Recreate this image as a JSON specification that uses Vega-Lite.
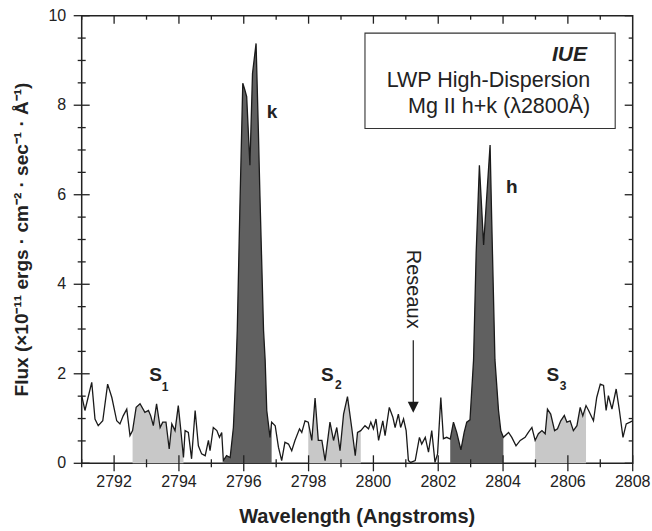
{
  "$schema": "https://vega.github.io/schema/vega-lite/v6.json",
  "width": 551,
  "height": 447.6,
  "autosize": {"type": "none"},
  "padding": {"left": 81.7, "top": 15.7, "right": 19.3, "bottom": 67.7},
  "background": "white",
  "config": {
    "font": "Liberation Sans",
    "view": {"stroke": "#222222", "strokeWidth": 1.5}
  },
  "datasets": {
    "spectrum": [
      {"w": 2791.00, "f": 1.51}, {"w": 2791.10, "f": 1.18}, {"w": 2791.31, "f": 1.81},
      {"w": 2791.41, "f": 0.99}, {"w": 2791.51, "f": 0.84}, {"w": 2791.65, "f": 0.95},
      {"w": 2791.80, "f": 1.77}, {"w": 2791.93, "f": 1.47}, {"w": 2792.08, "f": 0.95},
      {"w": 2792.18, "f": 0.88}, {"w": 2792.28, "f": 1.06}, {"w": 2792.39, "f": 1.21},
      {"w": 2792.49, "f": 0.62},
      {"w": 2792.57, "f": 0.73, "band": "S1"}, {"w": 2792.68, "f": 1.25, "band": "S1"},
      {"w": 2792.80, "f": 1.33, "band": "S1"}, {"w": 2792.95, "f": 1.14, "band": "S1"},
      {"w": 2793.06, "f": 1.18, "band": "S1"}, {"w": 2793.13, "f": 1.06, "band": "S1"},
      {"w": 2793.21, "f": 0.84, "band": "S1"}, {"w": 2793.31, "f": 1.33, "band": "S1"},
      {"w": 2793.42, "f": 0.80, "band": "S1"}, {"w": 2793.50, "f": 0.92, "band": "S1"},
      {"w": 2793.60, "f": 0.92, "band": "S1"}, {"w": 2793.70, "f": 0.32, "band": "S1"},
      {"w": 2793.78, "f": 0.88, "band": "S1"}, {"w": 2793.88, "f": 0.73, "band": "S1"},
      {"w": 2793.98, "f": 1.29, "band": "S1"}, {"w": 2794.05, "f": 0.80, "band": "S1"},
      {"w": 2794.14, "f": 0.13, "band": "S1"},
      {"w": 2794.19, "f": 0.73}, {"w": 2794.29, "f": 0.69}, {"w": 2794.39, "f": 0.10},
      {"w": 2794.50, "f": 1.18}, {"w": 2794.60, "f": 0.39}, {"w": 2794.70, "f": 0.21},
      {"w": 2794.81, "f": 0.17}, {"w": 2794.91, "f": 0.51}, {"w": 2794.96, "f": 0.28},
      {"w": 2795.06, "f": 0.80}, {"w": 2795.17, "f": 0.73}, {"w": 2795.25, "f": 0.58},
      {"w": 2795.32, "f": 0.69},
      {"w": 2795.37, "f": 0.06, "band": "k"}, {"w": 2795.47, "f": 0.17, "band": "k"},
      {"w": 2795.58, "f": 0.13, "band": "k"}, {"w": 2795.68, "f": 0.80, "band": "k"},
      {"w": 2795.76, "f": 2.10, "band": "k"}, {"w": 2795.80, "f": 2.98, "band": "k"},
      {"w": 2795.88, "f": 5.70, "band": "k"}, {"w": 2795.97, "f": 8.49, "band": "k"},
      {"w": 2796.03, "f": 8.35, "band": "k"}, {"w": 2796.09, "f": 8.19, "band": "k"},
      {"w": 2796.19, "f": 6.66, "band": "k"}, {"w": 2796.27, "f": 8.71, "band": "k"},
      {"w": 2796.38, "f": 9.38, "band": "k"}, {"w": 2796.45, "f": 7.45, "band": "k"},
      {"w": 2796.50, "f": 5.96, "band": "k"}, {"w": 2796.61, "f": 2.98, "band": "k"},
      {"w": 2796.66, "f": 2.31, "band": "k"}, {"w": 2796.71, "f": 1.18, "band": "k"},
      {"w": 2796.81, "f": 0.58, "band": "k"}, {"w": 2796.86, "f": 0.92, "band": "k"},
      {"w": 2796.97, "f": 0.84}, {"w": 2797.07, "f": 0.36}, {"w": 2797.17, "f": 0.06},
      {"w": 2797.27, "f": 0.47}, {"w": 2797.38, "f": 0.43}, {"w": 2797.48, "f": 0.28},
      {"w": 2797.58, "f": 0.51}, {"w": 2797.72, "f": 0.77}, {"w": 2797.79, "f": 0.69},
      {"w": 2797.89, "f": 0.95},
      {"w": 2797.99, "f": 0.92, "band": "S2"}, {"w": 2798.10, "f": 0.51, "band": "S2"},
      {"w": 2798.20, "f": 1.46, "band": "S2"}, {"w": 2798.30, "f": 0.51, "band": "S2"},
      {"w": 2798.41, "f": 0.51, "band": "S2"}, {"w": 2798.51, "f": 0.06, "band": "S2"},
      {"w": 2798.66, "f": 0.92, "band": "S2"}, {"w": 2798.77, "f": 0.51, "band": "S2"},
      {"w": 2798.87, "f": 0.80, "band": "S2"}, {"w": 2798.97, "f": 0.28, "band": "S2"},
      {"w": 2799.08, "f": 1.10, "band": "S2"}, {"w": 2799.20, "f": 1.49, "band": "S2"},
      {"w": 2799.33, "f": 0.80, "band": "S2"}, {"w": 2799.44, "f": 0.17, "band": "S2"},
      {"w": 2799.51, "f": 0.69, "band": "S2"}, {"w": 2799.61, "f": 0.73, "band": "S2"},
      {"w": 2799.74, "f": 0.84}, {"w": 2799.85, "f": 0.77}, {"w": 2799.92, "f": 0.92},
      {"w": 2800.00, "f": 0.77}, {"w": 2800.08, "f": 0.99}, {"w": 2800.16, "f": 0.51},
      {"w": 2800.29, "f": 0.95}, {"w": 2800.36, "f": 0.62}, {"w": 2800.49, "f": 1.25},
      {"w": 2800.60, "f": 1.03}, {"w": 2800.67, "f": 0.80}, {"w": 2800.77, "f": 1.10},
      {"w": 2800.84, "f": 0.80}, {"w": 2800.93, "f": 0.99}, {"w": 2801.01, "f": 0.73},
      {"w": 2801.08, "f": 0.06}, {"w": 2801.15, "f": 0.02}, {"w": 2801.29, "f": 0.06},
      {"w": 2801.42, "f": 0.58}, {"w": 2801.49, "f": 0.43}, {"w": 2801.60, "f": 0.58},
      {"w": 2801.70, "f": 0.25}, {"w": 2801.80, "f": 0.73}, {"w": 2801.90, "f": 0.02},
      {"w": 2801.98, "f": 0.21}, {"w": 2802.08, "f": 1.47}, {"w": 2802.16, "f": 0.55},
      {"w": 2802.26, "f": 0.58},
      {"w": 2802.37, "f": 0.54, "band": "h"}, {"w": 2802.47, "f": 0.92, "band": "h"},
      {"w": 2802.57, "f": 0.69, "band": "h"}, {"w": 2802.70, "f": 0.30, "band": "h"},
      {"w": 2802.80, "f": 0.69, "band": "h"}, {"w": 2802.88, "f": 0.92, "band": "h"},
      {"w": 2802.98, "f": 0.97, "band": "h"}, {"w": 2803.09, "f": 2.31, "band": "h"},
      {"w": 2803.17, "f": 4.69, "band": "h"}, {"w": 2803.27, "f": 6.66, "band": "h"},
      {"w": 2803.40, "f": 4.88, "band": "h"}, {"w": 2803.60, "f": 7.11, "band": "h"},
      {"w": 2803.65, "f": 5.44, "band": "h"}, {"w": 2803.75, "f": 2.31, "band": "h"},
      {"w": 2803.86, "f": 1.18, "band": "h"}, {"w": 2803.93, "f": 0.73, "band": "h"},
      {"w": 2804.01, "f": 0.58, "band": "h"},
      {"w": 2804.17, "f": 0.69}, {"w": 2804.27, "f": 0.58}, {"w": 2804.40, "f": 0.39},
      {"w": 2804.53, "f": 0.51}, {"w": 2804.68, "f": 0.58}, {"w": 2804.78, "f": 0.69},
      {"w": 2804.89, "f": 0.80},
      {"w": 2804.99, "f": 0.51, "band": "S3"}, {"w": 2805.09, "f": 0.66, "band": "S3"},
      {"w": 2805.20, "f": 0.73, "band": "S3"}, {"w": 2805.30, "f": 0.66, "band": "S3"},
      {"w": 2805.37, "f": 1.21, "band": "S3"}, {"w": 2805.47, "f": 1.10, "band": "S3"},
      {"w": 2805.59, "f": 0.73, "band": "S3"}, {"w": 2805.68, "f": 0.77, "band": "S3"},
      {"w": 2805.78, "f": 0.95, "band": "S3"}, {"w": 2805.89, "f": 1.07, "band": "S3"},
      {"w": 2805.97, "f": 0.92, "band": "S3"}, {"w": 2806.07, "f": 0.95, "band": "S3"},
      {"w": 2806.17, "f": 0.73, "band": "S3"}, {"w": 2806.28, "f": 0.84, "band": "S3"},
      {"w": 2806.38, "f": 1.25, "band": "S3"}, {"w": 2806.46, "f": 1.06, "band": "S3"},
      {"w": 2806.56, "f": 1.29, "band": "S3"},
      {"w": 2806.64, "f": 1.18}, {"w": 2806.79, "f": 0.95}, {"w": 2806.89, "f": 1.47},
      {"w": 2807.00, "f": 1.77}, {"w": 2807.10, "f": 1.74}, {"w": 2807.18, "f": 1.18},
      {"w": 2807.25, "f": 1.51}, {"w": 2807.36, "f": 1.21}, {"w": 2807.49, "f": 1.66},
      {"w": 2807.59, "f": 1.18}, {"w": 2807.70, "f": 0.58}, {"w": 2807.80, "f": 0.88},
      {"w": 2807.92, "f": 0.92}, {"w": 2808.00, "f": 0.95}
    ],
    "xLabels": [{"v": 2792}, {"v": 2794}, {"v": 2796}, {"v": 2798}, {"v": 2800}, {"v": 2802}, {"v": 2804}, {"v": 2806}, {"v": 2808}],
    "yLabels": [{"v": 0}, {"v": 2}, {"v": 4}, {"v": 6}, {"v": 8}, {"v": 10}],
    "xMajor": [{"v": 2792}, {"v": 2794}, {"v": 2796}, {"v": 2798}, {"v": 2800}, {"v": 2802}, {"v": 2804}, {"v": 2806}],
    "xMinor": [{"v": 2791}, {"v": 2793}, {"v": 2795}, {"v": 2797}, {"v": 2799}, {"v": 2801}, {"v": 2803}, {"v": 2805}, {"v": 2807}],
    "yMajor": [{"v": 0}, {"v": 2}, {"v": 4}, {"v": 6}, {"v": 8}, {"v": 10}],
    "yMinor": [{"v": 0.5}, {"v": 1}, {"v": 1.5}, {"v": 2.5}, {"v": 3}, {"v": 3.5}, {"v": 4.5}, {"v": 5}, {"v": 5.5}, {"v": 6.5}, {"v": 7}, {"v": 7.5}, {"v": 8.5}, {"v": 9}, {"v": 9.5}],
    "xTitle": [{"x": 2799.5, "y": 0, "t": "Wavelength (Angstroms)"}],
    "yTitle": [{"x": 2791, "y": 5, "t": "Flux (×10⁻¹¹ ergs · cm⁻² · sec⁻¹ · Å⁻¹)"}],
    "box": [{"x1": 2799.74, "x2": 2807.46, "y1": 9.61, "y2": 7.48}],
    "boxTitle": [{"x": 2806.59, "y": 9.12, "t": "IUE"}],
    "boxLines": [
      {"x": 2806.69, "y": 8.53, "t": "LWP High-Dispersion"},
      {"x": 2806.69, "y": 7.96, "t": "Mg II h+k (λ2800Å)"}
    ],
    "lineNames": [
      {"x": 2796.87, "y": 7.85, "t": "k"},
      {"x": 2804.27, "y": 6.18, "t": "h"}
    ],
    "windows": [
      {"x": 2793.28, "y": 1.97, "t": "S"},
      {"x": 2798.58, "y": 1.97, "t": "S"},
      {"x": 2805.54, "y": 1.97, "t": "S"}
    ],
    "windowSubs": [
      {"x": 2793.57, "y": 1.71, "t": "1"},
      {"x": 2798.92, "y": 1.75, "t": "2"},
      {"x": 2805.85, "y": 1.73, "t": "3"}
    ],
    "reseau": [{"x": 2801.23, "y": 3.89, "y2": 2.75, "head": 1.25, "tail": 1.36, "t": "Reseaux"}]
  },
  "layer": [
    {
      "data": {"name": "spectrum"},
      "transform": [{"filter": "datum.band === 'S1' || datum.band === 'S2' || datum.band === 'S3'"}],
      "mark": {"type": "area", "color": "#c8c8c8"},
      "encoding": {
        "x": {"field": "w", "type": "quantitative", "scale": {"domain": [2791, 2808], "nice": false, "zero": false}, "axis": null},
        "y": {"field": "f", "type": "quantitative", "stack": null, "scale": {"domain": [0, 10], "nice": false}, "axis": null},
        "detail": {"field": "band", "type": "nominal"}
      }
    },
    {
      "data": {"name": "spectrum"},
      "transform": [{"filter": "datum.band === 'k' || datum.band === 'h'"}],
      "mark": {"type": "area", "color": "#606060"},
      "encoding": {
        "x": {"field": "w", "type": "quantitative", "axis": null},
        "y": {"field": "f", "type": "quantitative", "stack": null, "axis": null},
        "detail": {"field": "band", "type": "nominal"}
      }
    },
    {
      "data": {"name": "spectrum"},
      "mark": {"type": "line", "color": "#1a1a1a", "strokeWidth": 1.3},
      "encoding": {
        "x": {"field": "w", "type": "quantitative", "axis": null},
        "y": {"field": "f", "type": "quantitative", "axis": null}
      }
    },
    {
      "data": {"name": "yMajor"},
      "mark": {"type": "rule", "color": "#222222", "strokeWidth": 1.3, "xOffset": -8, "x2Offset": 8},
      "encoding": {
        "x": {"datum": 2791, "type": "quantitative", "axis": null},
        "x2": {"datum": 2791},
        "y": {"field": "v", "type": "quantitative", "axis": null}
      }
    },
    {
      "data": {"name": "yMinor"},
      "mark": {"type": "rule", "color": "#222222", "strokeWidth": 1.3, "xOffset": -4, "x2Offset": 4},
      "encoding": {
        "x": {"datum": 2791, "type": "quantitative", "axis": null},
        "x2": {"datum": 2791},
        "y": {"field": "v", "type": "quantitative", "axis": null}
      }
    },
    {
      "data": {"name": "yMajor"},
      "mark": {"type": "rule", "color": "#222222", "strokeWidth": 1.3, "xOffset": -8, "x2Offset": 0},
      "encoding": {
        "x": {"datum": 2808, "type": "quantitative", "axis": null},
        "x2": {"datum": 2808},
        "y": {"field": "v", "type": "quantitative", "axis": null}
      }
    },
    {
      "data": {"name": "yMinor"},
      "mark": {"type": "rule", "color": "#222222", "strokeWidth": 1.3, "xOffset": -4, "x2Offset": 0},
      "encoding": {
        "x": {"datum": 2808, "type": "quantitative", "axis": null},
        "x2": {"datum": 2808},
        "y": {"field": "v", "type": "quantitative", "axis": null}
      }
    },
    {
      "data": {"name": "xLabels"},
      "mark": {"type": "rule", "color": "#222222", "strokeWidth": 1.3, "yOffset": -8, "y2Offset": 8},
      "encoding": {
        "x": {"field": "v", "type": "quantitative", "axis": null},
        "y": {"datum": 0, "type": "quantitative", "axis": null},
        "y2": {"datum": 0}
      }
    },
    {
      "data": {"name": "xMinor"},
      "mark": {"type": "rule", "color": "#222222", "strokeWidth": 1.3, "yOffset": -4, "y2Offset": 4},
      "encoding": {
        "x": {"field": "v", "type": "quantitative", "axis": null},
        "y": {"datum": 0, "type": "quantitative", "axis": null},
        "y2": {"datum": 0}
      }
    },
    {
      "data": {"name": "xMajor"},
      "mark": {"type": "rule", "color": "#222222", "strokeWidth": 1.3, "yOffset": 0, "y2Offset": 8},
      "encoding": {
        "x": {"field": "v", "type": "quantitative", "axis": null},
        "y": {"datum": 10, "type": "quantitative", "axis": null},
        "y2": {"datum": 10}
      }
    },
    {
      "data": {"name": "xMinor"},
      "mark": {"type": "rule", "color": "#222222", "strokeWidth": 1.3, "yOffset": 0, "y2Offset": 4},
      "encoding": {
        "x": {"field": "v", "type": "quantitative", "axis": null},
        "y": {"datum": 10, "type": "quantitative", "axis": null},
        "y2": {"datum": 10}
      }
    },
    {
      "data": {"name": "box"},
      "mark": {"type": "rect", "fill": "white", "stroke": "#333333", "strokeWidth": 1.1},
      "encoding": {
        "x": {"field": "x1", "type": "quantitative", "axis": null},
        "x2": {"field": "x2"},
        "y": {"field": "y1", "type": "quantitative", "axis": null},
        "y2": {"field": "y2"}
      }
    },
    {
      "data": {"name": "boxTitle"},
      "mark": {"type": "text", "align": "right", "baseline": "middle", "font": "Liberation Sans", "fontSize": 21, "fontWeight": "bold", "fontStyle": "italic", "color": "#222222"},
      "encoding": {
        "x": {"field": "x", "type": "quantitative", "axis": null},
        "y": {"field": "y", "type": "quantitative", "axis": null},
        "text": {"field": "t"}
      }
    },
    {
      "data": {"name": "boxLines"},
      "mark": {"type": "text", "align": "right", "baseline": "middle", "font": "Liberation Sans", "fontSize": 21.5, "color": "#222222"},
      "encoding": {
        "x": {"field": "x", "type": "quantitative", "axis": null},
        "y": {"field": "y", "type": "quantitative", "axis": null},
        "text": {"field": "t"}
      }
    },
    {
      "data": {"name": "lineNames"},
      "mark": {"type": "text", "align": "center", "baseline": "middle", "font": "Liberation Sans", "fontSize": 19, "fontWeight": "bold", "color": "#222222"},
      "encoding": {
        "x": {"field": "x", "type": "quantitative", "axis": null},
        "y": {"field": "y", "type": "quantitative", "axis": null},
        "text": {"field": "t"}
      }
    },
    {
      "data": {"name": "windows"},
      "mark": {"type": "text", "align": "center", "baseline": "middle", "font": "Liberation Sans", "fontSize": 19, "fontWeight": "bold", "color": "#222222"},
      "encoding": {
        "x": {"field": "x", "type": "quantitative", "axis": null},
        "y": {"field": "y", "type": "quantitative", "axis": null},
        "text": {"field": "t"}
      }
    },
    {
      "data": {"name": "windowSubs"},
      "mark": {"type": "text", "align": "center", "baseline": "middle", "font": "Liberation Sans", "fontSize": 12, "fontWeight": "bold", "color": "#222222"},
      "encoding": {
        "x": {"field": "x", "type": "quantitative", "axis": null},
        "y": {"field": "y", "type": "quantitative", "axis": null},
        "text": {"field": "t"}
      }
    },
    {
      "data": {"name": "reseau"},
      "mark": {"type": "text", "align": "center", "baseline": "middle", "angle": 90, "font": "Liberation Sans", "fontSize": 20, "color": "#222222"},
      "encoding": {
        "x": {"field": "x", "type": "quantitative", "axis": null},
        "y": {"field": "y", "type": "quantitative", "axis": null},
        "text": {"field": "t"}
      }
    },
    {
      "data": {"name": "reseau"},
      "mark": {"type": "rule", "color": "#1a1a1a", "strokeWidth": 1.2},
      "encoding": {
        "x": {"field": "x", "type": "quantitative", "axis": null},
        "y": {"field": "y2", "type": "quantitative", "axis": null},
        "y2": {"field": "tail"}
      }
    },
    {
      "data": {"name": "reseau"},
      "mark": {"type": "point", "shape": "M-1,-1L1,-1L0,1Z", "filled": true, "color": "#1a1a1a", "opacity": 1, "size": 121},
      "encoding": {
        "x": {"field": "x", "type": "quantitative", "axis": null},
        "y": {"field": "head", "type": "quantitative", "axis": null}
      }
    },
    {
      "data": {"name": "yLabels"},
      "mark": {"type": "text", "align": "right", "baseline": "middle", "xOffset": -15.5, "font": "Liberation Sans", "fontSize": 16, "color": "#222222"},
      "encoding": {
        "x": {"datum": 2791, "type": "quantitative", "axis": null},
        "y": {"field": "v", "type": "quantitative", "axis": null},
        "text": {"field": "v", "type": "quantitative", "format": "d"}
      }
    },
    {
      "data": {"name": "xLabels"},
      "mark": {"type": "text", "align": "center", "baseline": "top", "yOffset": 11, "font": "Liberation Sans", "fontSize": 16, "color": "#222222"},
      "encoding": {
        "x": {"field": "v", "type": "quantitative", "axis": null},
        "y": {"datum": 0, "type": "quantitative", "axis": null},
        "text": {"field": "v", "type": "quantitative", "format": "d"}
      }
    },
    {
      "data": {"name": "xTitle"},
      "mark": {"type": "text", "align": "center", "baseline": "middle", "yOffset": 53.7, "font": "Liberation Sans", "fontSize": 20, "fontWeight": "bold", "color": "#222222"},
      "encoding": {
        "x": {"field": "x", "type": "quantitative", "axis": null},
        "y": {"field": "y", "type": "quantitative", "axis": null},
        "text": {"field": "t"}
      }
    },
    {
      "data": {"name": "yTitle"},
      "mark": {"type": "text", "align": "center", "baseline": "middle", "angle": 270, "xOffset": -59.7, "font": "Liberation Sans", "fontSize": 19, "fontWeight": "bold", "color": "#222222"},
      "encoding": {
        "x": {"field": "x", "type": "quantitative", "axis": null},
        "y": {"field": "y", "type": "quantitative", "axis": null},
        "text": {"field": "t"}
      }
    }
  ]
}
